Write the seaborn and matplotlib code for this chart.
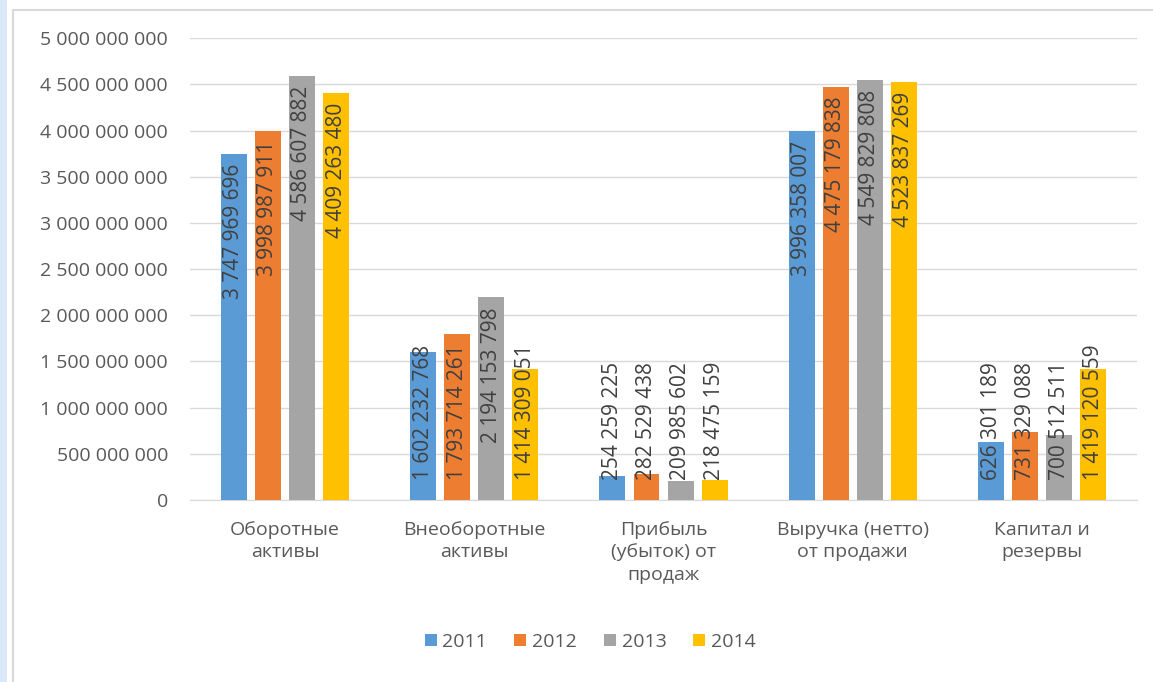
import pandas as pd
import numpy as np
import matplotlib
matplotlib.use('Agg')
import matplotlib.pyplot as plt
import matplotlib.transforms as mtransforms
from matplotlib.patches import Rectangle
import seaborn as sns

# данные диаграммы
categories = ['Оборотные\nактивы', 'Внеоборотные\nактивы', 'Прибыль\n(убыток) от\nпродаж',
              'Выручка (нетто)\nот продажи', 'Капитал и\nрезервы']
years = ['2011', '2012', '2013', '2014']
v2011 = [3747969696, 1602232768, 254259225, 3996358007, 626301189]
v2012 = [3998987911, 1793714261, 282529438, 4475179838, 731329088]
v2013 = [4586607882, 2194153798, 209985602, 4549829808, 700512511]
v2014 = [4409263480, 1414309051, 218475159, 4523837269, 1419120559]
yticks = [0, 500000000, 1000000000, 1500000000, 2000000000, 2500000000,
          3000000000, 3500000000, 4000000000, 4500000000, 5000000000]

colors = ['#5B9BD5', '#ED7D31', '#A5A5A5', '#FFC000']

rows = []
for y, vals in zip(years, [v2011, v2012, v2013, v2014]):
    for c, v in zip(categories, vals):
        rows.append({'cat': c, 'year': y, 'val': v})
df = pd.DataFrame(rows)

sns.set_style('white')
plt.rcParams['font.family'] = ['Open Sans', 'DejaVu Sans']

def fmt(v):
    return f'{v:,.0f}'.replace(',', ' ')

fig = plt.figure(figsize=(11.53, 6.82), dpi=100)
ax = fig.add_axes([0.165, 0.267, 0.821, 0.677])

# рамка области диаграммы и голубая полоса слева
fig.patches.append(Rectangle((0, 0), 0.006, 1, transform=fig.transFigure,
                             facecolor='#D9E9FA', edgecolor='none', zorder=0))
fig.patches.append(Rectangle((0.011, -0.01), 1.0, 0.996, transform=fig.transFigure,
                             facecolor='none', edgecolor='#D9D9D9', lw=1.5, zorder=0))

sns.barplot(data=df, x='cat', y='val', hue='year', palette=colors, saturation=1,
            width=0.72, gap=0.24, ax=ax, legend=False, zorder=3, linewidth=0)

ax.set_ylim(0, 5000000000)
ax.set_yticks(yticks)
ax.set_yticklabels([fmt(t) for t in yticks], color='#595959', fontsize=14)
ax.yaxis.grid(True, color='#D9D9D9', lw=1)
ax.set_axisbelow(True)
for s in ['top', 'right', 'left']:
    ax.spines[s].set_visible(False)
ax.spines['bottom'].set_color('#D9D9D9')
ax.tick_params(axis='y', length=0, pad=16)
ax.tick_params(axis='x', length=0, pad=15)
plt.setp(ax.get_xticklabels(), color='#595959', fontsize=14, linespacing=1.32)
ax.set_xlabel('')
ax.set_ylabel('')

# подписи данных
off = mtransforms.ScaledTranslation(0, -7 / 72, fig.dpi_scale_trans)
texts = []
for cont in ax.containers:
    for bar in cont:
        h = bar.get_height()
        x = bar.get_x() + bar.get_width() / 2
        t = ax.text(x, h, fmt(h), rotation=90, ha='center', va='top',
                    fontsize=15, color='#404040', transform=ax.transData + off, zorder=5)
        texts.append(t)

fig.canvas.draw()
renderer = fig.canvas.get_renderer()
base_px = ax.transData.transform((0, 0))[1] + 20
for t in texts:
    bb = t.get_window_extent(renderer)
    if bb.y0 < base_px:
        t.set_transform(ax.transData)
        t.set_va('bottom')
        t.set_y(ax.transData.inverted().transform((0, base_px))[1])

handles = [Rectangle((0, 0), 1, 1, facecolor=c, edgecolor='none') for c in colors]
leg = fig.legend(handles, years, loc='center', bbox_to_anchor=(0.512, 0.059), ncol=4,
                 frameon=False, fontsize=14, handlelength=0.6, handleheight=0.6,
                 handletextpad=0.3, columnspacing=1.4)
for txt in leg.get_texts():
    txt.set_color('#595959')

fig.savefig('out.png', dpi=100)
